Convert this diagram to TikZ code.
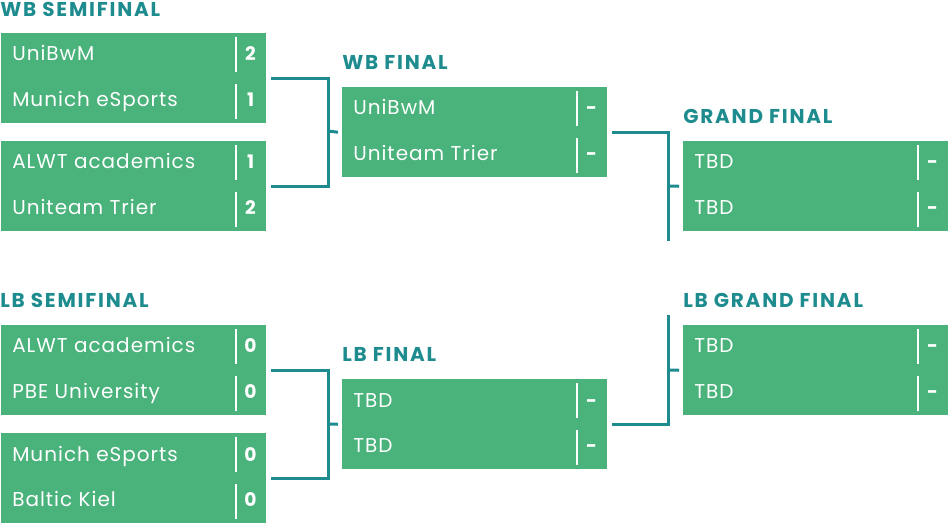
\documentclass[tikz,border=0pt]{standalone}
\usepackage{fontspec}
\setmainfont{Poppins}
\usetikzlibrary{positioning}
\definecolor{boxgreen}{HTML}{4AB27B}
\definecolor{teal}{HTML}{1E8C8F}
\tikzset{
  match/.style={fill=boxgreen,draw=none,minimum width=265*0.75pt,minimum height=90*0.75pt,inner sep=0pt,anchor=north west},
  team/.style={anchor=base west,text=white,font=\fontsize{15}{16}\selectfont\addfontfeature{LetterSpace=5},inner sep=0pt},
  score/.style={anchor=base,text=white,font=\bfseries\fontsize{14}{16}\selectfont,inner sep=0pt},
  head/.style={anchor=west,text=teal,font=\bfseries\fontsize{15}{15}\selectfont\addfontfeature{LetterSpace=9},inner sep=0pt},
  link/.style={draw=teal,line width=3*0.75pt}
}
% match box: name, x, y, team1, score1, team2, score2
\newcommand\bmatch[7]{
\node[match] (#1) at (#2,#3) {};
\node[team] (#1-ta) at ([xshift=11*0.75pt,yshift=-28*0.75pt]#1.north west) {#4};
\node[team] (#1-tb) at ([xshift=11*0.75pt,yshift=17*0.75pt]#1.south west) {#6};
\node[score] (#1-sa) at ([xshift=-16*0.75pt,yshift=-28*0.75pt]#1.north east) {#5};
\node[score] (#1-sb) at ([xshift=-16*0.75pt,yshift=17*0.75pt]#1.south east) {#7};
\draw[white,line width=1.5pt] ([xshift=-31*0.75pt,yshift=-4*0.75pt]#1.north east) -- +(0,-35*0.75pt);
\draw[white,line width=1.5pt] ([xshift=-31*0.75pt,yshift=5*0.75pt]#1.south east) -- +(0,35*0.75pt);
\coordinate (#1-out) at ([xshift=4*0.75pt]#1.east);
}
\begin{document}
\begin{tikzpicture}[x=0.75pt,y=-0.75pt]
\useasboundingbox (0,0) rectangle (948,523);
% winners bracket
\node[head] (h-wbs) at (0,9) {WB SEMIFINAL};
\bmatch{wbs1}{1}{33}{UniBwM}{2}{Munich eSports}{1}
\bmatch{wbs2}{1}{141}{ALWT academics}{1}{Uniteam Trier}{2}
\node[head] (h-wbf) at (342,62) {WB FINAL};
\bmatch{wbf}{342}{87}{UniBwM}{-}{Uniteam Trier}{-}
\node[head] (h-gf) at (683,116) {GRAND FINAL};
\bmatch{gf}{683}{141}{TBD}{-}{TBD}{-}
% losers bracket
\node[head] (h-lbs) at (0,300) {LB SEMIFINAL};
\bmatch{lbs1}{1}{325}{ALWT academics}{0}{PBE University}{0}
\bmatch{lbs2}{1}{433}{Munich eSports}{0}{Baltic Kiel}{0}
\node[head] (h-lbf) at (342,354) {LB FINAL};
\bmatch{lbf}{342}{379}{TBD}{-}{TBD}{-}
\node[head] (h-lgf) at (683,300) {LB GRAND FINAL};
\bmatch{lgf}{683}{325}{TBD}{-}{TBD}{-}
% brackets
\coordinate (wbj) at (328,131);
\draw[link] (wbs1-out) -| (wbj) |- (wbs2-out);
\draw[link] (wbj) -- ([xshift=-4*0.75pt]wbf.west);
\coordinate (gfj) at (668,186);
\draw[link] (wbf-out) -| (gfj) -- +(0,-55);
\draw[link] (gfj) -- ++(0,55);
\draw[link] (gfj) -- ([xshift=-4*0.75pt]gf.west);
\coordinate (lbj) at (328,424);
\draw[link] (lbs1-out) -| (lbj) |- (lbs2-out);
\draw[link] (lbj) -- ([xshift=-4*0.75pt]lbf.west);
\coordinate (lgfj) at (668,370);
\draw[link] (lbf-out) -| (lgfj) -- ++(0,-55);
\draw[link] (lgfj) -- ([xshift=-4*0.75pt]lgf.west);
\end{tikzpicture}
\end{document}
